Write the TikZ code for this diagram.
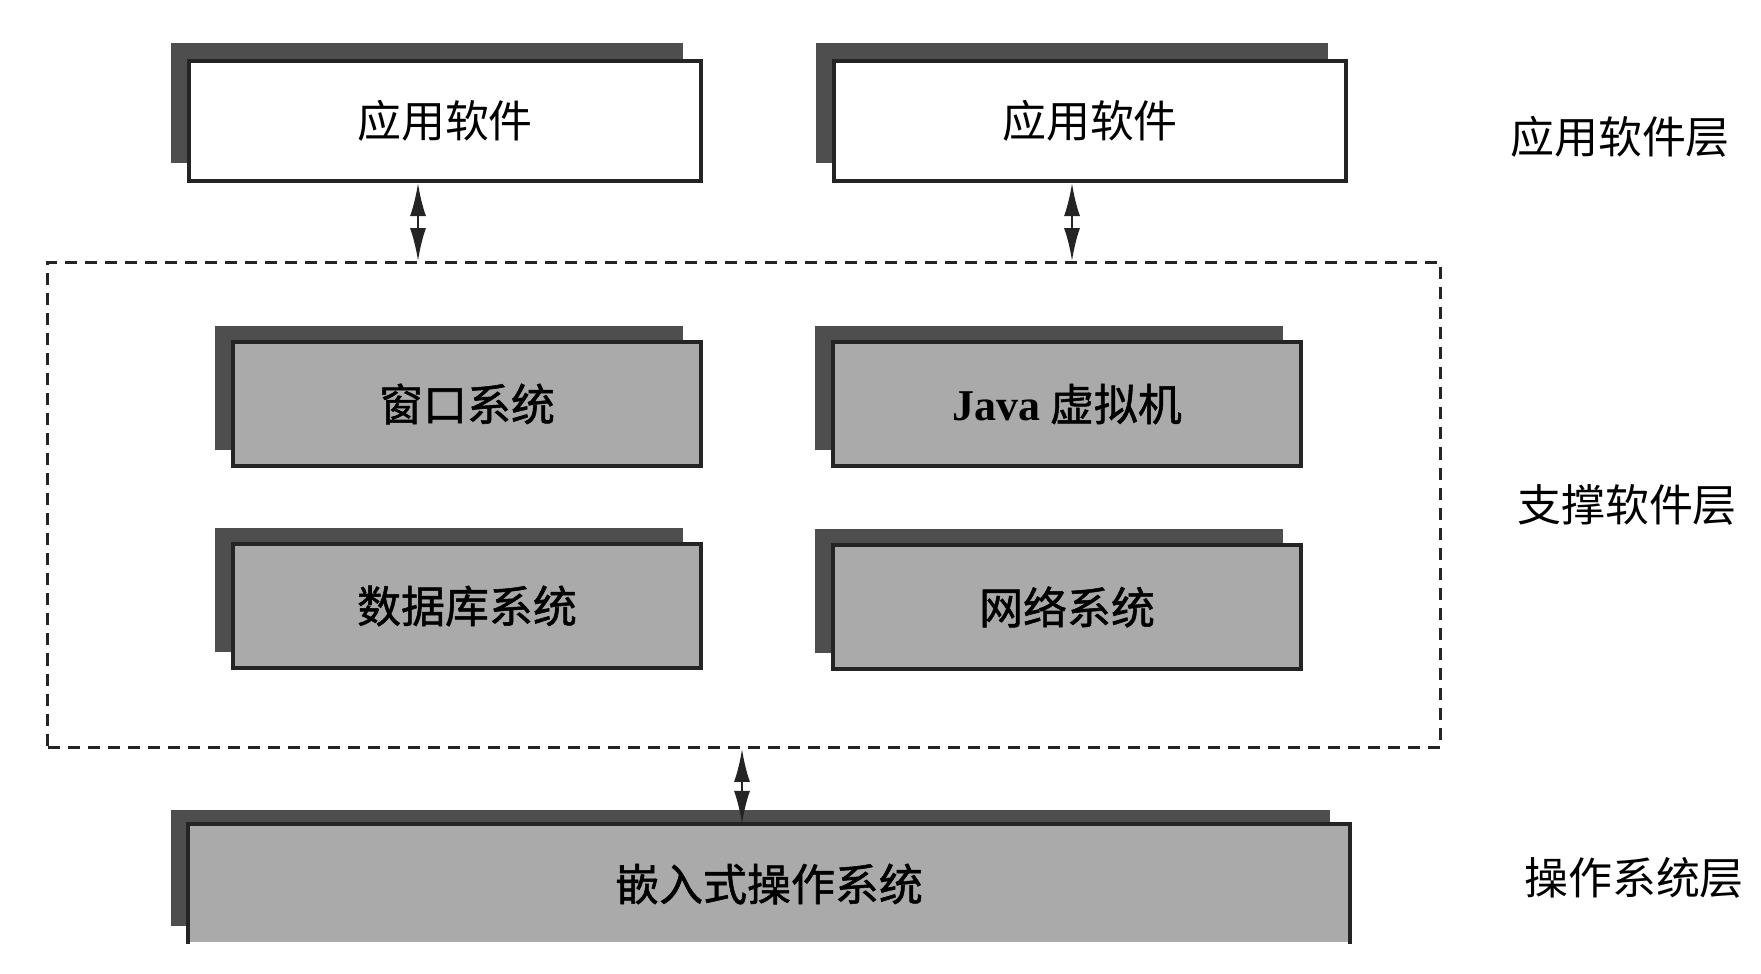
\documentclass[tikz,border=0pt]{standalone}
\usepackage{fontspec}
\newfontfamily\cjk[AutoFakeBold=1.2]{Noto Sans CJK SC}
\newfontfamily\javafont{Liberation Serif}
\usetikzlibrary{arrows.meta,shadows}

\definecolor{boxgray}{RGB}{170,170,170}
\definecolor{shadowgray}{RGB}{78,78,78}
\definecolor{edgegray}{RGB}{36,36,36}

\begin{document}
\begin{tikzpicture}[
    x=0.01cm, y=-0.01cm,
    >={Latex[length=3.3mm,width=1.6mm]},
    app-box/.style={
      rectangle,
      draw=edgegray,
      line width=0.04cm,
      fill=white,
      minimum width=5.12cm,
      minimum height=1.2cm,
      inner sep=0pt,
      font=\cjk\fontsize{12.5}{15}\selectfont,
      general shadow={shadow xshift=-0.18cm, shadow yshift=0.18cm, fill=shadowgray}
    },
    sup-box/.style={
      rectangle,
      draw=edgegray,
      line width=0.04cm,
      fill=boxgray,
      minimum width=4.67cm,
      minimum height=1.24cm,
      inner sep=0pt,
      font=\cjk\fontsize{12.5}{15}\selectfont\bfseries,
      general shadow={shadow xshift=-0.18cm, shadow yshift=0.16cm, fill=shadowgray}
    },
    layer/.style={
      font=\cjk\fontsize{12.5}{15}\selectfont
    },
    link/.style={
      <->,
      draw=edgegray,
      line width=0.025cm
    },
  ]

  \useasboundingbox (0,0) rectangle (1761,974);

  %%%%%%%%%%%%%%%%%%%%%%%%%%%%%%%%%%%%%%%%%%%%%%
  %%%%%%%%%%%%%%%% ACTUAL NODES %%%%%%%%%%%%%%%%%%%
  %%%%%%%%%%%%%%%%%%%%%%%%%%%%%%%%%%%%%%%%%%%%%%
    \node[app-box] (app1) at (445,121) {应用软件};
    \node[app-box] (app2) at (1090,121) {应用软件};

    \node[draw=edgegray, line width=0.025cm, dash pattern=on 0.12cm off 0.08cm,
          minimum width=13.92cm, minimum height=4.85cm] (support) at (744,505) {};

    \node[sup-box] (window) at (467,404) {窗口系统};
    \node[sup-box] (java) at (1067,404) {{\javafont\bfseries Java} 虚拟机};
    \node[sup-box] (database) at (467,606) {数据库系统};
    \node[sup-box] (network) at (1067,607) {网络系统};

    \node[sup-box, draw=none, minimum width=11.58cm, minimum height=1.16cm,
          general shadow={shadow xshift=-0.19cm, shadow yshift=0.16cm, fill=shadowgray}]
          (os) at (769,884) {嵌入式操作系统};
    \draw[edgegray, line width=0.04cm] (os.south west) |- (os.north east) -- (os.south east);

    \node[layer] (app-layer) at (1620,137) {应用软件层};
    \node[layer] (sup-layer) at (1627,505) {支撑软件层};
    \node[layer] (os-layer) at (1634,878) {操作系统层};

	%%%%%%%%%%%%%%%%%%%%%%%%%%%%%%%%%%%%%%%%%%%%%%
	%%%%%%%%%%%%%%%% HELPING NODES %%%%%%%%%%%%%%%%%%%
	%%%%%%%%%%%%%%%%%%%%%%%%%%%%%%%%%%%%%%%%%%%%%%
	\coordinate (app1-support) at (418,0);
	\coordinate (app2-support) at (1072,0);
	\coordinate (support-os) at (742,0);

	%%%%%%%%%%%%%%%%%%%%%%%%%%%%%%%%%%%%%%%%%%%%%%
	%%%%%%%%%%%%%%%%%% PATHS %%%%%%%%%%%%%%%%%%%%%%%
	%%%%%%%%%%%%%%%%%%%%%%%%%%%%%%%%%%%%%%%%%%%%%%
	\path [link] (app1.south -| app1-support) -- (support.north -| app1-support);
	\path [link] (app2.south -| app2-support) -- (support.north -| app2-support);
	\path [link] (support.south -| support-os) -- (os.north -| support-os);

\end{tikzpicture}
\end{document}
